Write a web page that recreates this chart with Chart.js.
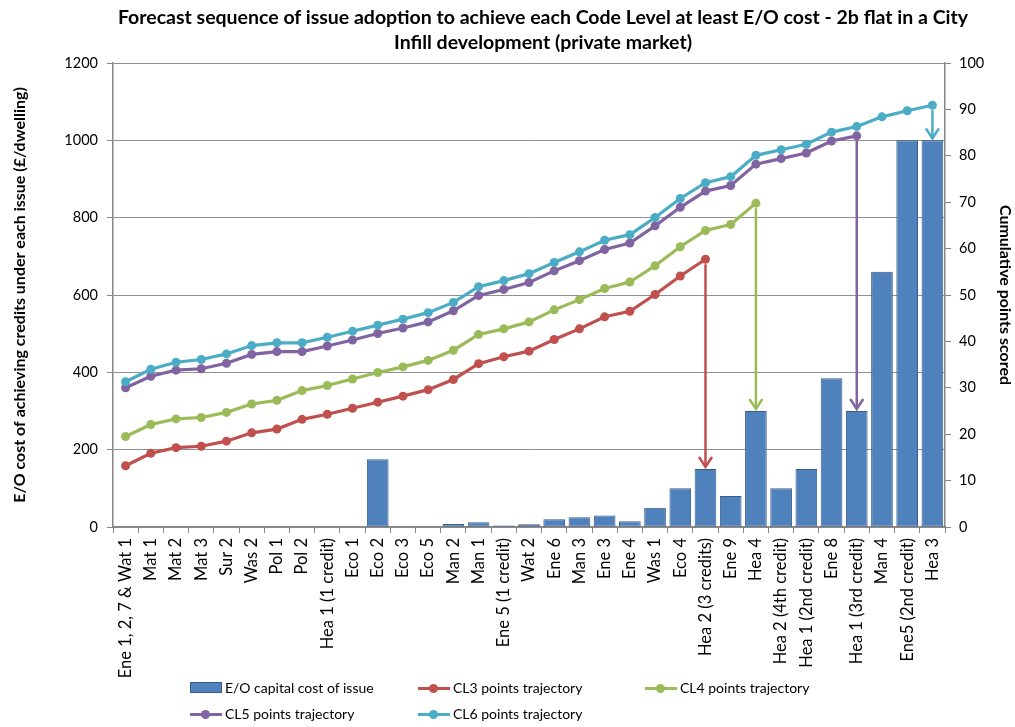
<!DOCTYPE html>
<html>
<head>
<meta charset="utf-8">
<script src="https://cdn.jsdelivr.net/npm/chart.js@4"></script>
<style>
  html, body { margin: 0; padding: 0; background: #fff; }
  #wrap { position: relative; width: 1015px; height: 727px; font-family: Lato, "Open Sans", sans-serif; }
  #chart { position: absolute; left: 0; top: 0; }
  #title { position: absolute; left: 43px; top: 4px; width: 1000px; text-align: center;
           font-weight: bold; font-size: 19.5px; line-height: 25px; color: #000; }
  .lg { position: absolute; font-size: 14px; color: #000; white-space: nowrap; height: 16px; line-height: 16px; }
  .lg .sw { position: absolute; left: 0; top: 2px; width: 32px; height: 11px; }
  .lg .box { background: #4F81BD; border: 1px solid #385D8A; box-sizing: border-box; }
  .lg .ln { top: 7px; height: 3px; }
  .lg .dot { position: absolute; left: 11px; top: -3px; width: 9px; height: 9px; border-radius: 50%; }
  .lg span.t { position: absolute; left: 35px; top: 0; }
</style>
</head>
<body>
<div id="wrap">
  <canvas id="chart" width="1015" height="727"></canvas>
  <div id="title">Forecast sequence of issue adoption to achieve each Code Level at least E/O cost - 2b flat in a City<br>Infill development (private market)</div>
  <div id="legend"></div>
</div>
<script>
// Issues in the order they are adopted
const issues = [
  "Ene 1, 2, 7 & Wat 1", "Mat 1", "Mat 2", "Mat 3", "Sur 2", "Was 2", "Pol 1", "Pol 2",
  "Hea 1 (1 credit)", "Eco 1", "Eco 2", "Eco 3", "Eco 5", "Man 2", "Man 1",
  "Ene 5 (1 credit)", "Wat 2", "Ene 6", "Man 3", "Ene 3", "Ene 4", "Was 1", "Eco 4",
  "Hea 2 (3 credits)", "Ene 9", "Hea 4", "Hea 2 (4th credit)", "Hea 1 (2nd credit)",
  "Ene 8", "Hea 1 (3rd credit)", "Man 4", "Ene5 (2nd credit)", "Hea 3"
];

// Extra-over capital cost of each issue (£/dwelling)
const capitalCost = [
  0, 0, 0, 0, 0, 0, 0, 0, 0, 0, 175, 0, 0, 8, 12,
  4, 7, 20, 25, 30, 15, 50, 100, 150, 80, 300, 100, 150, 385, 300, 660, 1000, 1000
];

// Cumulative points scored, one trajectory per Code Level
const cl3Points = [
  13.2, 15.9, 17.1, 17.4, 18.5, 20.3, 21.1, 23.2, 24.3, 25.6, 26.9, 28.2, 29.6, 31.8,
  35.2, 36.7, 37.9, 40.4, 42.7, 45.3, 46.5, 50.1, 54.1, 57.7
];
const cl4Points = [
  19.5, 22.1, 23.3, 23.6, 24.7, 26.5, 27.3, 29.4, 30.5, 31.9, 33.3, 34.5, 35.9, 38.1,
  41.5, 42.7, 44.2, 46.8, 49.0, 51.4, 52.8, 56.3, 60.4, 63.9, 65.2, 69.8
];
const cl5Points = [
  30.0, 32.5, 33.8, 34.1, 35.3, 37.2, 37.8, 37.8, 39.0, 40.3, 41.7, 42.9, 44.2, 46.6,
  49.9, 51.2, 52.7, 55.2, 57.4, 59.8, 61.2, 64.9, 68.9, 72.4, 73.6, 78.2, 79.4, 80.6,
  83.2, 84.3
];
const cl6Points = [
  31.3, 34.0, 35.5, 36.1, 37.3, 39.1, 39.7, 39.7, 40.9, 42.2, 43.5, 44.8, 46.2, 48.4,
  51.8, 53.1, 54.6, 57.0, 59.3, 61.8, 63.0, 66.7, 70.8, 74.2, 75.5, 80.1, 81.3, 82.5,
  85.1, 86.3, 88.4, 89.7, 90.9
];

// Axis tick steps
const costTicks = { min: 0, max: 1200, step: 200 };
const pointTicks = { min: 0, max: 100, step: 10 };

const barLabel = "E/O capital cost of issue";
const trajectories = [
  { label: "CL3 points trajectory", data: cl3Points, color: "#C0504D" },
  { label: "CL4 points trajectory", data: cl4Points, color: "#9BBB59" },
  { label: "CL5 points trajectory", data: cl5Points, color: "#8064A2" },
  { label: "CL6 points trajectory", data: cl6Points, color: "#4BACC6" }
];

const axisGrey = "#868686";
Chart.defaults.font.family = "Lato, 'Open Sans', sans-serif";
Chart.defaults.color = "#000";

// Arrow from the last point of each trajectory down to the issue bar that completes it
const dropArrows = {
  id: "dropArrows",
  afterDatasetsDraw(chart) {
    const { ctx } = chart;
    const xs = chart.scales.x, ys = chart.scales.y, y1s = chart.scales.y1;
    trajectories.forEach(t => {
      const idx = t.data.length - 1;
      const px = xs.getPixelForValue(idx);
      const yStart = y1s.getPixelForValue(t.data[idx]) + 5;
      const yEnd = ys.getPixelForValue(capitalCost[idx]) - 2;
      ctx.save();
      ctx.strokeStyle = t.color;
      ctx.lineWidth = 2.5;
      ctx.lineCap = "butt";
      ctx.lineJoin = "miter";
      ctx.beginPath();
      ctx.moveTo(px, yStart);
      ctx.lineTo(px, yEnd);
      ctx.stroke();
      ctx.beginPath();
      ctx.moveTo(px - 6.5, yEnd - 10);
      ctx.lineTo(px, yEnd);
      ctx.lineTo(px + 6.5, yEnd - 10);
      ctx.stroke();
      ctx.restore();
    });
  }
};

const datasets = [
  {
    type: "bar",
    label: barLabel,
    data: capitalCost,
    yAxisID: "y",
    backgroundColor: "#4F81BD",
    borderColor: "#385D8A",
    borderWidth: c => (c.raw ? 1 : 0),
    borderSkipped: false,
    categoryPercentage: 1.0,
    barPercentage: 0.86,
    order: 5
  }
].concat(trajectories.map((t, i) => ({
  type: "line",
  label: t.label,
  data: t.data,
  yAxisID: "y1",
  borderColor: t.color,
  backgroundColor: t.color,
  borderWidth: 3.2,
  pointRadius: 4.5,
  pointBorderWidth: 0,
  pointBackgroundColor: t.color,
  tension: 0,
  fill: false,
  order: 4 - i
})));

const plainNumber = v => String(v);

new Chart(document.getElementById("chart"), {
  type: "bar",
  data: { labels: issues, datasets },
  options: {
    responsive: false,
    animation: false,
    layout: { padding: { top: 63, bottom: 50, left: 0, right: 0 } },
    plugins: {
      legend: { display: false },
      title: { display: false },
      tooltip: { enabled: false }
    },
    scales: {
      x: {
        offset: true,
        grid: { offset: true, drawOnChartArea: false, drawTicks: true, tickLength: 6, tickColor: axisGrey, color: axisGrey },
        border: { color: axisGrey, width: 1.5 },
        ticks: { minRotation: 90, maxRotation: 90, autoSkip: false, padding: 5, font: { size: 16.5 }, color: "#000" },
        afterFit: s => { s.height = 150; }
      },
      y: {
        position: "left",
        min: costTicks.min,
        max: costTicks.max,
        ticks: { stepSize: costTicks.step, padding: 9, font: { size: 14.5 }, color: "#000", callback: plainNumber },
        grid: { color: "#8f8f8f", lineWidth: 1, tickLength: 6, tickColor: axisGrey },
        border: { color: axisGrey, width: 1.5 },
        title: {
          display: true,
          text: "E/O cost of achieving credits under each issue (£/dwelling)",
          font: { size: 16, weight: "bold" },
          color: "#000",
          padding: { top: 10, bottom: 0 }
        },
        afterFit: s => { s.width = 113; }
      },
      y1: {
        position: "right",
        min: pointTicks.min,
        max: pointTicks.max,
        ticks: { stepSize: pointTicks.step, padding: 8, font: { size: 14.5 }, color: "#000", callback: plainNumber },
        grid: { drawOnChartArea: false, tickLength: 6, tickColor: axisGrey, color: axisGrey },
        border: { color: axisGrey, width: 1.5 },
        title: {
          display: true,
          text: "Cumulative points scored",
          font: { size: 16, weight: "bold" },
          color: "#000",
          padding: { top: 0, bottom: 0 }
        },
        afterFit: s => { s.width = 70; }
      }
    }
  },
  plugins: [dropArrows]
});

// Legend laid out in two rows beneath the axis labels
const legendSlots = [
  { left: 190, top: 680 }, { left: 418, top: 680 }, { left: 645, top: 680 },
  { left: 190, top: 706 }, { left: 418, top: 706 }
];
const legendEl = document.getElementById("legend");
const legendItems = [{ label: barLabel, bar: true }].concat(trajectories);
legendItems.forEach((item, i) => {
  const d = document.createElement("div");
  d.className = "lg";
  d.style.left = legendSlots[i].left + "px";
  d.style.top = legendSlots[i].top + "px";
  if (item.bar) {
    d.innerHTML = '<div class="sw box"></div><span class="t"></span>';
  } else {
    d.innerHTML = '<div class="sw ln" style="background:' + item.color + '"><div class="dot" style="background:' + item.color + '"></div></div><span class="t"></span>';
  }
  d.querySelector(".t").textContent = item.label;
  legendEl.appendChild(d);
});
</script>
</body>
</html>
